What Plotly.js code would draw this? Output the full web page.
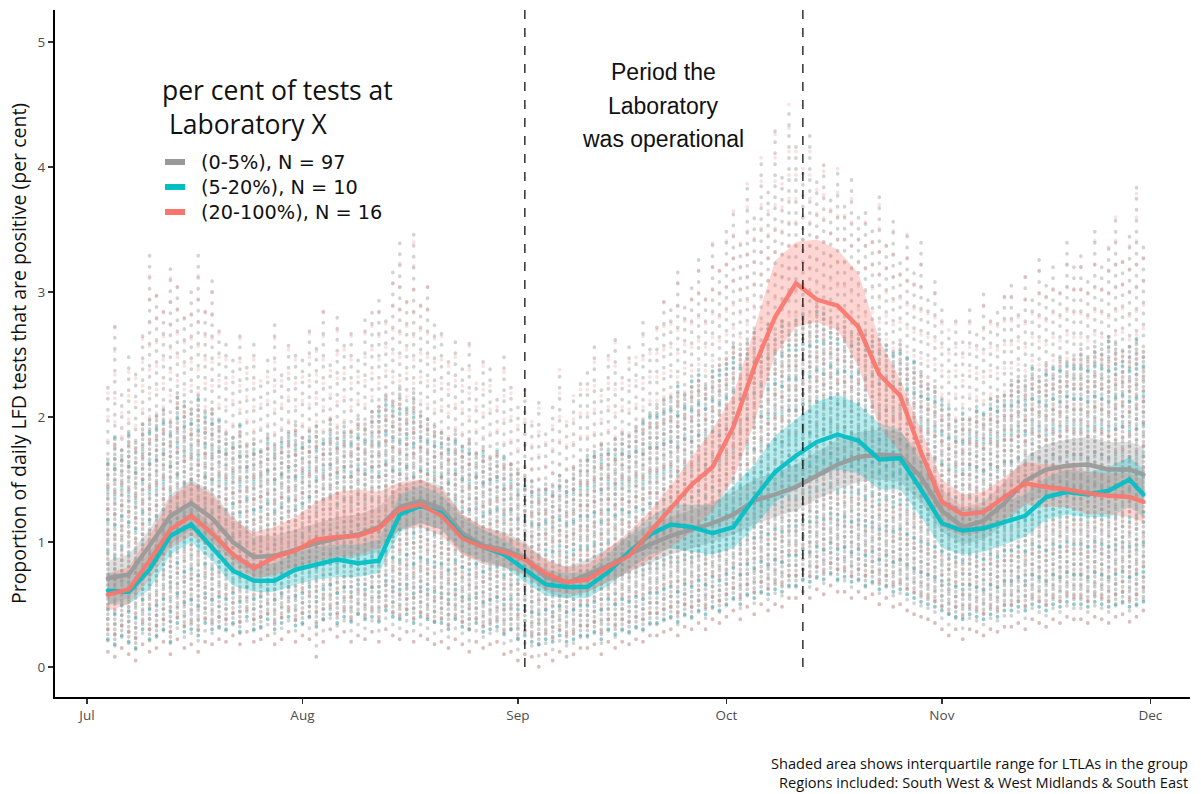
<!DOCTYPE html>
<html>
<head>
<meta charset="utf-8">
<script src="https://cdn.plot.ly/plotly-3.0.1.min.js"></script>
<style>
html,body{margin:0;padding:0;background:#fff;}
#chart{width:1201px;height:794px;}
#chart .scatterlayer .js-line{stroke-linecap:round;}
</style>
</head>
<body>
<div id="chart"></div>
<script>
// ---------- DATA ----------
// sample dates for the group medians and interquartile ribbons
const sampleDates = [
 '2021-07-04','2021-07-07','2021-07-10','2021-07-13','2021-07-16','2021-07-19','2021-07-22','2021-07-25','2021-07-28','2021-07-31',
 '2021-08-03','2021-08-06','2021-08-09','2021-08-12','2021-08-15','2021-08-18','2021-08-21','2021-08-24','2021-08-27','2021-08-30',
 '2021-09-02','2021-09-05','2021-09-08','2021-09-11','2021-09-14','2021-09-17','2021-09-20','2021-09-23','2021-09-26','2021-09-29',
 '2021-10-02','2021-10-05','2021-10-08','2021-10-11','2021-10-14','2021-10-17','2021-10-20','2021-10-23','2021-10-26','2021-10-29',
 '2021-11-01','2021-11-04','2021-11-07','2021-11-10','2021-11-13','2021-11-16','2021-11-19','2021-11-22','2021-11-25','2021-11-28','2021-11-30'];

const groupNames = ['(0-5%), N = 97', '(5-20%), N = 10', '(20-100%), N = 16'];
const groupColors = ['#999999', '#00BFC4', '#F8766D'];
const groupFills = ['rgba(153,153,153,0.30)', 'rgba(0,191,196,0.28)', 'rgba(248,118,109,0.30)'];

// medians
const grayMedian = [0.71,0.74,0.97,1.21,1.31,1.19,1.00,0.88,0.89,0.94, 0.99,1.03,1.06,1.12,1.28,1.33,1.27,1.07,0.97,0.94, 0.87,0.72,0.67,0.74,0.81,0.90,0.98,1.05,1.10,1.15, 1.22,1.33,1.38,1.44,1.53,1.62,1.68,1.70,1.69,1.52, 1.25,1.12,1.17,1.31,1.49,1.58,1.61,1.62,1.58,1.58,1.54];
const tealMedian = [0.61,0.60,0.78,1.05,1.14,0.96,0.77,0.69,0.69,0.78, 0.82,0.86,0.83,0.85,1.22,1.29,1.23,1.04,0.96,0.90, 0.78,0.66,0.64,0.64,0.76,0.92,1.06,1.14,1.12,1.07, 1.12,1.35,1.56,1.69,1.80,1.86,1.81,1.66,1.67,1.42, 1.15,1.09,1.11,1.16,1.21,1.36,1.40,1.38,1.41,1.50,1.38];
const redMedian  = [0.58,0.62,0.85,1.10,1.21,1.07,0.90,0.79,0.88,0.93, 1.02,1.04,1.05,1.11,1.26,1.30,1.21,1.03,0.96,0.92, 0.86,0.75,0.68,0.70,0.80,0.89,1.08,1.27,1.46,1.60, 1.92,2.40,2.80,3.07,2.94,2.89,2.72,2.34,2.17,1.72, 1.32,1.22,1.24,1.36,1.47,1.44,1.42,1.39,1.37,1.36,1.32];

// interquartile ranges
const grayQ1 = [0.50,0.55,0.75,0.98,1.10,1.00,0.85,0.72,0.72,0.76, 0.80,0.85,0.88,0.92,1.10,1.15,1.10,0.90,0.82,0.80, 0.74,0.60,0.55,0.60,0.68,0.76,0.83,0.90,0.95,1.00, 1.06,1.14,1.20,1.25,1.34,1.42,1.48,1.50,1.48,1.32, 1.08,0.98,1.02,1.14,1.30,1.38,1.40,1.40,1.36,1.36,1.34];
const grayQ3 = [0.85,0.90,1.10,1.38,1.50,1.40,1.20,1.05,1.05,1.10, 1.15,1.20,1.22,1.28,1.45,1.50,1.45,1.22,1.12,1.08, 1.00,0.85,0.80,0.86,0.95,1.05,1.13,1.20,1.26,1.32, 1.40,1.50,1.56,1.62,1.72,1.82,1.88,1.90,1.88,1.72, 1.42,1.28,1.32,1.48,1.68,1.78,1.82,1.84,1.80,1.80,1.76];
const tealQ1 = [0.50,0.50,0.62,0.90,1.00,0.85,0.65,0.60,0.60,0.66, 0.70,0.72,0.72,0.75,1.08,1.15,1.10,0.92,0.85,0.80, 0.68,0.57,0.55,0.55,0.65,0.78,0.90,0.95,0.92,0.90, 0.95,1.12,1.32,1.42,1.52,1.58,1.55,1.42,1.42,1.20, 0.95,0.90,0.92,0.98,1.04,1.18,1.22,1.20,1.20,1.28,1.20];
const tealQ3 = [0.75,0.75,0.92,1.20,1.30,1.12,0.92,0.82,0.83,0.92, 0.96,0.98,0.98,1.02,1.38,1.45,1.38,1.20,1.10,1.02, 0.90,0.78,0.75,0.76,0.90,1.06,1.20,1.30,1.30,1.30, 1.45,1.62,1.85,1.98,2.12,2.18,2.10,1.95,1.90,1.65, 1.35,1.26,1.28,1.32,1.38,1.52,1.58,1.56,1.60,1.68,1.58];
const redQ1  = [0.45,0.50,0.70,0.95,1.05,0.95,0.78,0.70,0.74,0.80, 0.85,0.88,0.90,0.95,1.10,1.12,1.05,0.90,0.84,0.80, 0.74,0.62,0.58,0.60,0.68,0.76,0.86,0.96,1.08,1.25, 1.50,1.95,2.50,2.72,2.76,2.70,2.40,1.92,1.72,1.42, 1.12,1.05,1.08,1.18,1.30,1.28,1.28,1.22,1.22,1.20,1.16];
const redQ3  = [0.75,0.80,1.05,1.35,1.48,1.38,1.18,1.08,1.12,1.20, 1.32,1.40,1.42,1.40,1.48,1.50,1.42,1.22,1.12,1.06, 0.98,0.86,0.80,0.82,0.95,1.08,1.25,1.45,1.68,1.90, 2.18,2.70,3.25,3.40,3.42,3.34,3.15,2.62,2.30,1.90, 1.50,1.38,1.40,1.52,1.64,1.62,1.62,1.56,1.55,1.55,1.50];

// daily spread of the individual LTLA points (4 Jul .. 30 Nov)
const dotStart = '2021-07-04';
const dotCoreLow = [0.22,0.18,0.25,0.2,0.15,0.3,0.22,
 0.25,0.3,0.2,0.35,0.28,0.3,0.25,0.35,0.3,0.32,
 0.3,0.35,0.28,0.4,0.3,0.32,0.38,0.3,0.35,0.4,0.33,
 0.35,0.4,0.32,0.38,0.42,0.35,0.4,0.36,0.42,0.38,
 0.4,0.36,0.45,0.4,0.38,0.42,0.35,0.4,0.38,0.36,
 0.35,0.3,0.38,0.32,0.3,0.35,0.28,0.3,0.32,0.26,0.3,
 0.22,0.25,0.2,0.18,0.22,0.2,0.25,0.2,0.22,0.25,
 0.25,0.28,0.22,0.3,0.26,0.3,0.28,0.32,0.3,0.35,
 0.35,0.38,0.4,0.36,0.42,0.4,0.45,0.42,0.48,0.45,
 0.5,0.55,0.5,0.58,0.55,0.6,0.58,0.62,0.6,0.65,
 0.65,0.7,0.68,0.72,0.7,0.75,0.7,0.72,0.68,0.7,
 0.65,0.68,0.62,0.65,0.6,0.62,0.58,0.55,0.52,0.5,0.48,
 0.45,0.42,0.4,0.38,0.42,0.4,0.38,0.42,0.4,0.45,
 0.45,0.48,0.45,0.5,0.48,0.45,0.5,0.48,0.52,0.5,
 0.5,0.48,0.52,0.5,0.48,0.5,0.52,0.48,0.5,0.52];
const dotCoreHigh = [1.7,1.85,1.75,1.9,1.8,1.95,2.0,
 2.05,2.1,2.0,2.2,2.15,2.1,2.2,2.05,2.1,2.0,
 1.9,1.85,1.95,1.8,1.85,1.75,1.9,1.8,1.85,1.9,1.95,
 1.85,1.9,1.95,1.85,2.0,1.9,1.95,1.9,2.0,1.95,
 2.05,2.1,2.2,2.15,2.25,2.1,2.2,2.05,2.0,1.95,
 1.9,1.85,1.9,1.8,1.85,1.75,1.8,1.7,1.75,1.7,1.65,
 1.6,1.55,1.5,1.45,1.5,1.45,1.55,1.5,1.6,1.65,
 1.7,1.75,1.8,1.75,1.85,1.9,1.85,1.95,2.0,2.05,
 2.1,2.15,2.2,2.25,2.2,2.3,2.35,2.3,2.4,2.45,
 2.5,2.6,2.55,2.65,2.7,2.6,2.75,2.7,2.8,2.75,
 2.8,2.85,2.8,2.9,2.85,2.8,2.75,2.8,2.7,2.75,
 2.7,2.65,2.7,2.6,2.55,2.6,2.5,2.45,2.4,2.3,2.25,
 2.15,2.1,2.0,2.05,2.0,2.1,2.05,2.15,2.2,2.2,
 2.3,2.35,2.3,2.4,2.35,2.45,2.4,2.5,2.45,2.5,
 2.55,2.5,2.6,2.55,2.65,2.6,2.55,2.6,2.65,2.55];
const dotMin = [0.12,0.08,0.15,0.1,0.05,0.18,0.12,
 0.15,0.2,0.1,0.22,0.15,0.18,0.12,0.2,0.18,0.22,
 0.2,0.25,0.18,0.28,0.2,0.22,0.25,0.18,0.22,0.28,0.2,
 0.25,0.22,0.08,0.2,0.3,0.24,0.28,0.2,0.25,0.22,
 0.28,0.2,0.3,0.25,0.22,0.28,0.2,0.25,0.22,0.18,
 0.2,0.15,0.22,0.18,0.12,0.2,0.15,0.18,0.2,0.1,0.12,
 0.05,0.1,0.08,0.0,0.1,0.05,0.12,0.08,0.1,0.15,
 0.15,0.18,0.1,0.2,0.15,0.2,0.18,0.22,0.2,0.25,
 0.25,0.28,0.3,0.25,0.32,0.3,0.35,0.3,0.38,0.35,
 0.4,0.45,0.38,0.48,0.42,0.5,0.45,0.5,0.48,0.55,
 0.55,0.6,0.55,0.62,0.58,0.65,0.6,0.6,0.55,0.6,
 0.55,0.58,0.5,0.55,0.48,0.5,0.45,0.42,0.4,0.38,0.35,
 0.3,0.25,0.3,0.22,0.3,0.28,0.25,0.3,0.28,0.32,
 0.32,0.35,0.3,0.38,0.35,0.32,0.38,0.35,0.4,0.38,
 0.38,0.35,0.4,0.38,0.35,0.4,0.42,0.36,0.4,0.45];
const dotMax = [2.3,2.8,2.2,2.5,2.4,2.7,3.3,
 3.0,2.9,3.2,3.1,2.8,3.0,3.3,2.9,3.1,2.7,
 2.6,2.5,2.7,2.4,2.6,2.3,2.5,2.8,2.4,2.6,2.5,
 2.5,2.7,2.6,2.9,2.5,2.8,2.6,2.7,2.5,2.8,
 2.9,3.0,2.8,3.2,3.4,3.0,3.5,2.9,3.1,2.8,
 2.7,2.5,2.6,2.4,2.6,2.3,2.5,2.4,2.2,2.5,2.3,
 2.1,2.3,2.0,2.2,1.9,2.1,2.4,2.0,2.2,2.3,
 2.4,2.6,2.3,2.5,2.7,2.4,2.6,2.5,2.8,2.6,
 2.8,3.0,2.9,3.2,2.9,3.1,3.3,3.0,3.4,3.2,
 3.5,3.7,3.4,3.9,3.6,4.1,3.8,4.3,4.0,4.5,
 4.2,4.0,4.3,3.9,4.1,3.8,4.0,3.7,3.9,3.6,
 3.7,3.5,3.8,3.4,3.6,3.3,3.5,3.2,3.4,3.0,3.1,
 2.9,2.7,2.8,2.6,2.9,2.7,3.0,2.8,2.9,3.0,
 3.1,2.9,3.2,3.0,3.3,3.1,3.2,3.0,3.4,3.2,
 3.3,3.1,3.5,3.2,3.4,3.6,3.3,3.5,3.9,3.4];

// axis ticks, reference lines and texts
const monthTicks = ['2021-07-01','2021-08-01','2021-09-01','2021-10-01','2021-11-01','2021-12-01'];
const monthLabels = ['Jul','Aug','Sep','Oct','Nov','Dec'];
const yTicks = [0,1,2,3,4,5];
const labPeriod = ['2021-09-02','2021-10-12'];
const periodNote = ['Period the','Laboratory','was operational'];
const captionLines = ['Shaded area shows interquartile range for LTLAs in the group',
                      'Regions included: South West & West Midlands & South East'];
const legendTitleLines = ['per cent of tests at', '\u00a0Laboratory X'];

// ---------- BUILD ----------
function dayList(start, n){
  const out = []; const t0 = Date.parse(start + 'T00:00:00Z');
  for(let i=0;i<n;i++){ out.push(new Date(t0 + i*86400000).toISOString().slice(0,10)); }
  return out;
}
const dotDays = dayList(dotStart, dotMax.length);

function columns(lo, hi){
  const x=[], y=[];
  for(let i=0;i<dotDays.length;i++){ x.push(dotDays[i], dotDays[i], null); y.push(lo[i], hi[i], null); }
  return {x, y};
}
function colTrace(lo, hi, color, width, dash){
  const c = columns(lo, hi);
  return {type:'scatter', mode:'lines', x:c.x, y:c.y, connectgaps:false,
          line:{color:color, width:width, dash:dash}, hoverinfo:'skip', showlegend:false};
}

const traces = [];
traces.push(colTrace(dotMin, dotMax, 'rgba(150,150,150,0.42)', 3.6, '0.5px,10.5px'));
traces.push(colTrace(dotCoreLow, dotCoreHigh, 'rgba(135,135,135,0.42)', 3.6, '0.5px,4.5px'));
traces.push(colTrace(dotMin, dotMax, 'rgba(248,118,109,0.22)', 3.6, '0.5px,23px'));
traces.push(colTrace(dotCoreLow, dotCoreHigh, 'rgba(0,191,196,0.28)', 3.6, '0.5px,29px'));

const q1s = [grayQ1, tealQ1, redQ1];
const q3s = [grayQ3, tealQ3, redQ3];
const meds = [grayMedian, tealMedian, redMedian];

for(let g=0; g<3; g++){
  traces.push({type:'scatter', mode:'lines', x:sampleDates, y:q1s[g], line:{width:0, color:groupFills[g]},
               hoverinfo:'skip', showlegend:false});
  traces.push({type:'scatter', mode:'lines', x:sampleDates, y:q3s[g], line:{width:0, color:groupFills[g]},
               fill:'tonexty', fillcolor:groupFills[g], hoverinfo:'skip', showlegend:false});
}
for(let g=0; g<3; g++){
  traces.push({type:'scatter', mode:'lines', name:groupNames[g], x:sampleDates, y:meds[g],
               line:{color:groupColors[g], width:4.4}, opacity:0.92, showlegend:false});
}

const plotL = 55, plotR = 1190, plotT = 10, plotB = 697;
const pw = plotR - plotL, ph = plotB - plotT;
const px2x = p => (p - plotL) / pw;
const py2y = p => (plotB - p) / ph;

const annotations = [];
const shapes = [];

// "Period the Laboratory was operational" note
const noteY = [72, 106, 139];
periodNote.forEach((t, i) => annotations.push({
  text:t, xref:'paper', yref:'paper', x:px2x(663), y:py2y(noteY[i]), xanchor:'center', yanchor:'middle',
  showarrow:false, borderpad:0, font:{family:'Liberation Sans, Arial, sans-serif', size:23, color:'#111'}}));

// caption under the plot
const capY = [763, 782];
captionLines.forEach((t, i) => annotations.push({
  text:t, xref:'paper', yref:'paper', x:px2x(1189), y:py2y(capY[i]), xanchor:'right', yanchor:'middle',
  showarrow:false, borderpad:0, font:{family:'Open Sans, sans-serif', size:14.6, color:'#111'}}));

// legend (key swatches + one text block for title, one for the labels)
annotations.push({text:legendTitleLines.join('<br>'), xref:'paper', yref:'paper', x:px2x(161), y:py2y(106.5),
  xanchor:'left', yanchor:'middle', align:'left', showarrow:false, borderpad:0,
  font:{family:'Open Sans, sans-serif', size:26.5, color:'#111'}});
const legItemY = [162, 187, 212];
annotations.push({text:groupNames.join('<br>'), xref:'paper', yref:'paper', x:px2x(200), y:py2y(legItemY[1]),
  xanchor:'left', yanchor:'middle', align:'left', showarrow:false, borderpad:0,
  font:{family:'DejaVu Sans, sans-serif', size:19.3, color:'#111'}});
groupNames.forEach((t, i) => {
  shapes.push({type:'line', xref:'paper', yref:'paper', x0:px2x(165), x1:px2x(185), y0:py2y(legItemY[i]), y1:py2y(legItemY[i]),
    line:{color:groupColors[i], width:6}, layer:'above'});
});

// laboratory operating period
labPeriod.forEach(d => shapes.push({type:'line', xref:'x', yref:'y', x0:d, x1:d, y0:0, y1:5.256,
  line:{color:'#111', width:1.3, dash:'dash'}, layer:'above'}));

const layout = {
  width:1201, height:794,
  margin:{l:plotL, r:1201-plotR, t:plotT, b:794-plotB},
  paper_bgcolor:'#ffffff', plot_bgcolor:'#ffffff',
  font:{family:'Open Sans, sans-serif', color:'#111'},
  showlegend:false,
  xaxis:{type:'date', range:['2021-06-26 09:30','2021-12-06 16:50'], tickvals:monthTicks, ticktext:monthLabels,
         showgrid:false, zeroline:false, showline:true, linecolor:'#000', linewidth:2,
         ticks:'outside', ticklen:5, tickwidth:1.5, tickcolor:'#333',
         tickfont:{size:13.5, color:'#4d4d4d'}, fixedrange:true},
  yaxis:{range:[-0.24, 5.256], tickvals:yTicks, ticktext:yTicks.map(String),
         showgrid:false, zeroline:false, showline:true, linecolor:'#000', linewidth:2,
         ticks:'outside', ticklen:5, tickwidth:1.5, tickcolor:'#333',
         tickfont:{size:13.5, color:'#4d4d4d'}, fixedrange:true,
         title:{text:'Proportion of daily LFD tests that are positive (per cent)', font:{size:19.5, color:'#111'}, standoff:6}},
  annotations:annotations,
  shapes:shapes
};

Plotly.newPlot('chart', traces, layout, {displayModeBar:false, staticPlot:true});
</script>
</body>
</html>
